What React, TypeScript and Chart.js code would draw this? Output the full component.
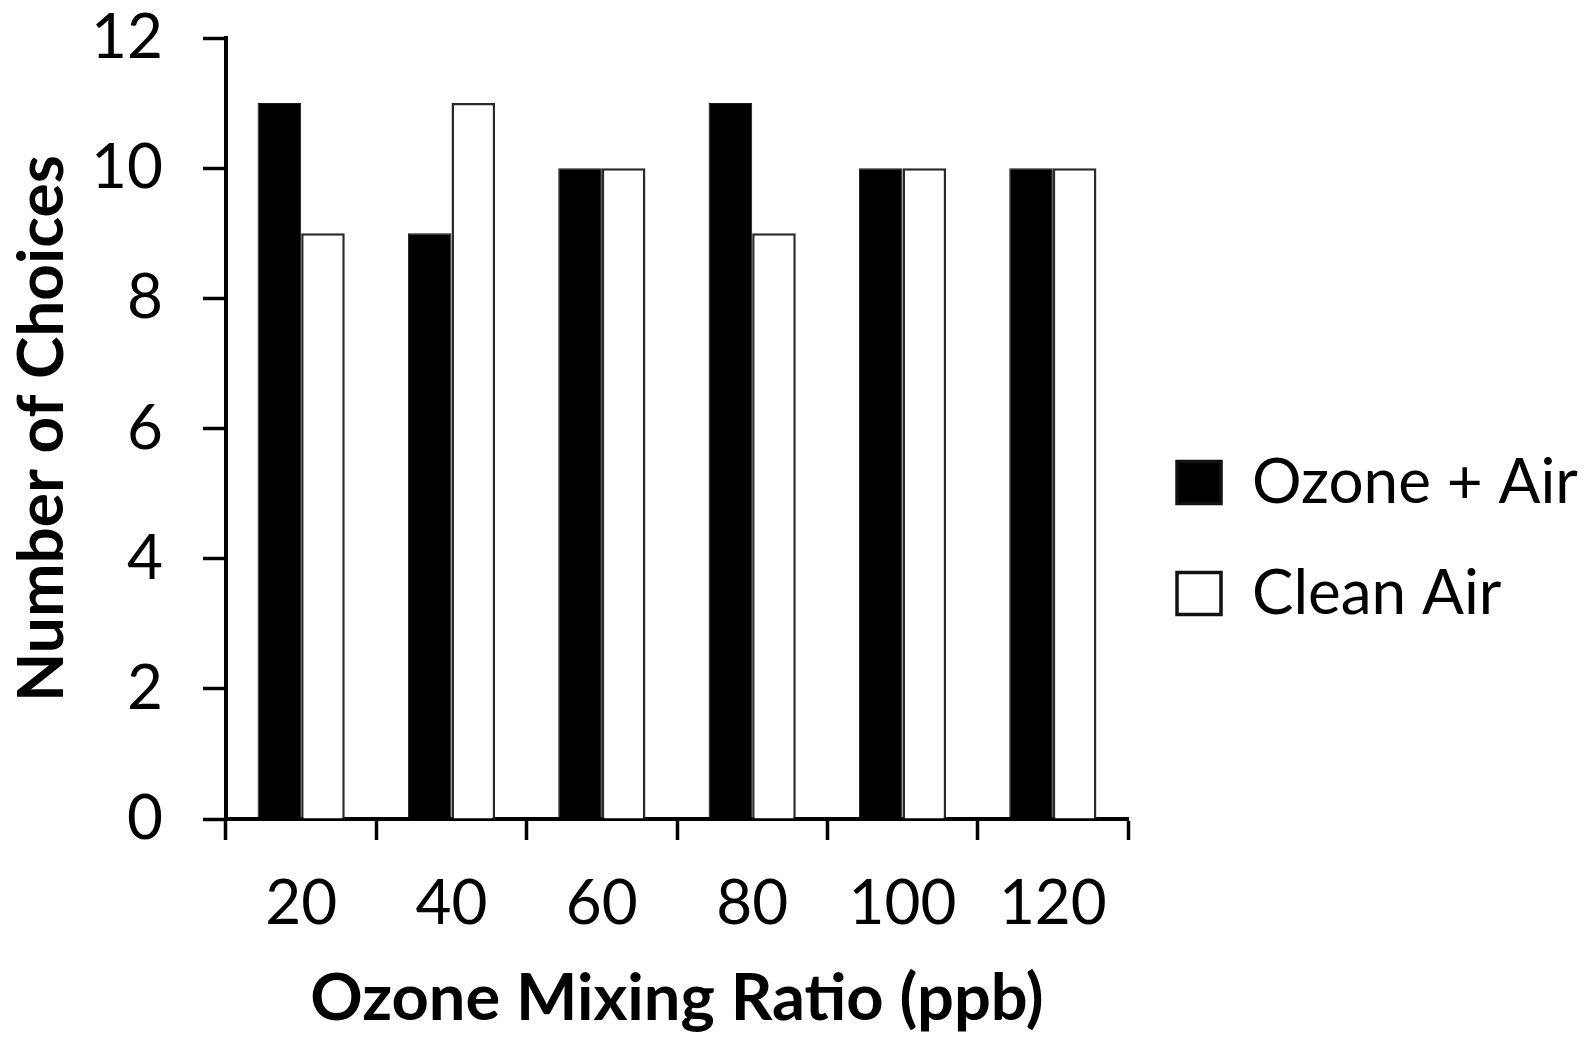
import React, { useEffect, useRef } from "react";
import { Chart, registerables } from "chart.js";

Chart.register(...registerables);

const categories = ["20", "40", "60", "80", "100", "120"];
const ozoneAir = [11, 9, 10, 11, 10, 10];
const cleanAir = [9, 11, 10, 9, 10, 10];
const yTicks = [0, 2, 4, 6, 8, 10, 12];
const seriesNames = ["Ozone + Air", "Clean Air"];
const xTitle = "Ozone Mixing Ratio (ppb)";
const yTitle = "Number of Choices";

const FONT = "Lato, 'Open Sans', sans-serif";
const W = 1595;
const H = 1038;
const LEGEND_FONT = 62;
const LEGEND_BOX_W = 44;
const LEGEND_BOX_H = 42;
const LEGEND_PAD = 49;
const AREA_RIGHT = 1128;

export default function App() {
  const ref = useRef<HTMLCanvasElement>(null);

  useEffect(() => {
    const canvas = ref.current;
    if (!canvas) return;

    const mctx = document.createElement("canvas").getContext("2d")!;
    mctx.font = `${LEGEND_FONT}px ${FONT}`;
    const tw = Math.max(...seriesNames.map((n) => mctx.measureText(n).width));
    const legendW = LEGEND_PAD + LEGEND_BOX_W + LEGEND_FONT / 2 + tw + 10;
    const padRight = W - AREA_RIGHT - legendW;

    const chart = new Chart(canvas, {
      type: "bar",
      data: {
        labels: categories,
        datasets: [
          {
            label: seriesNames[0],
            data: ozoneAir,
            backgroundColor: "#000000",
            borderColor: "#1a1a1a",
            borderWidth: 1,
            categoryPercentage: 0.58,
            barPercentage: 1,
          },
          {
            label: seriesNames[1],
            data: cleanAir,
            backgroundColor: "#ffffff",
            borderColor: "#2a2a2a",
            borderWidth: 2.5,
            categoryPercentage: 0.58,
            barPercentage: 1,
          },
        ],
      },
      options: {
        animation: false,
        responsive: false,
        devicePixelRatio: 1,
        layout: { padding: { top: 38, bottom: 0, left: 0, right: padRight } },
        plugins: {
          tooltip: { enabled: false },
          legend: {
            position: "right",
            maxWidth: 700,
            labels: {
              font: { family: FONT, size: LEGEND_FONT },
              color: "#000",
              boxWidth: LEGEND_BOX_W,
              boxHeight: LEGEND_BOX_H,
              padding: LEGEND_PAD,
              generateLabels: (c: any) =>
                (Chart.defaults.plugins.legend.labels as any)
                  .generateLabels(c)
                  .map((l: any) => ({ ...l, lineWidth: 3.5, strokeStyle: "#111" })),
            },
          },
        },
        scales: {
          x: {
            type: "category",
            afterFit: (s: any) => {
              s.height = H - 819;
              s.paddingLeft = 0;
              s.paddingRight = 0;
            },
            grid: {
              display: true,
              offset: true,
              drawOnChartArea: false,
              drawTicks: true,
              tickLength: 21,
              color: "#000",
              tickWidth: 3.5,
            },
            border: { display: true, color: "#000", width: 4 },
            ticks: {
              font: { family: FONT, size: 62 },
              color: "#000",
              padding: 27,
              maxRotation: 0,
              autoSkip: false,
            },
            title: {
              display: true,
              text: xTitle,
              font: { family: FONT, size: 65, weight: "bold" },
              color: "#000",
              padding: { top: 0, bottom: 0 },
            },
          },
          y: {
            min: 0,
            max: 12,
            afterFit: (s: any) => {
              s.width = 226;
              s.paddingTop = 0;
              s.paddingBottom = 0;
            },
            afterBuildTicks: (s: any) => {
              s.ticks = yTicks.map((v) => ({ value: v }));
            },
            grid: {
              display: true,
              drawOnChartArea: false,
              drawTicks: true,
              tickLength: 23,
              color: "#000",
              tickWidth: 3.5,
            },
            border: { display: true, color: "#000", width: 4 },
            ticks: {
              font: { family: FONT, size: 62 },
              color: "#000",
              padding: 40,
            },
            title: {
              display: true,
              text: yTitle,
              font: { family: FONT, size: 64, weight: "bold" },
              color: "#000",
              padding: { top: 4, bottom: 0 },
            },
          },
        },
      },
    } as any);
    return () => chart.destroy();
  }, []);

  return (
    <div
      style={{
        position: "absolute",
        left: 0,
        top: 0,
        width: W,
        height: H,
        background: "#fff",
      }}
    >
      <canvas ref={ref} width={W} height={H} style={{ display: "block" }} />
    </div>
  );
}
